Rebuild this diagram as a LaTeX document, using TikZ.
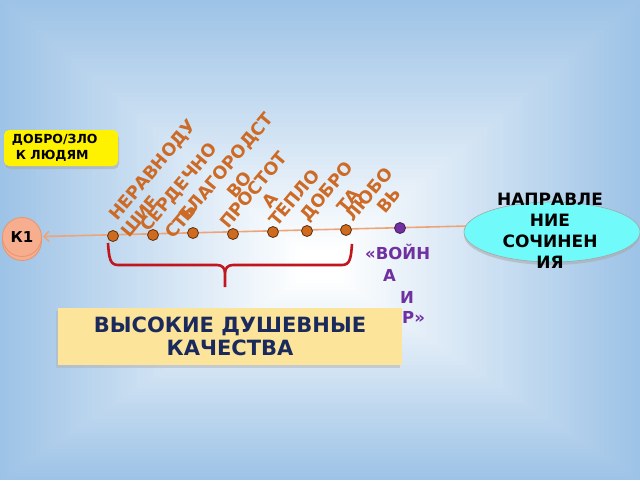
\documentclass[tikz,border=0pt]{standalone}
\usepackage{fontspec}
\setmainfont{DejaVu Sans}
\usetikzlibrary{shapes.geometric,shadows,arrows.meta}
\definecolor{bgblue}{HTML}{9DC3E6}
\definecolor{lorange}{HTML}{CC6A26}
\definecolor{dotor}{HTML}{D06A1E}
\definecolor{dotline}{HTML}{5A3010}
\definecolor{connc}{HTML}{EDA478}
\definecolor{kfill}{HTML}{F6AE8E}
\definecolor{kline}{HTML}{E8946E}
\definecolor{purp}{HTML}{7030A0}
\definecolor{navy}{HTML}{1B2A5C}
\definecolor{boxfill}{HTML}{FCE49A}
\definecolor{aqua}{HTML}{70FAFA}
\definecolor{bracec}{HTML}{C0161E}
\tikzset{
  lbl/.style={anchor=base west, rotate=50, inner sep=0pt, text=lorange,
    font=\bfseries\fontsize{17.5}{17.5}\selectfont},
  ptxt/.style={anchor=base west, inner sep=0pt, text=purp,
    font=\bfseries\fontsize{16.5}{16.5}\selectfont},
  dotn/.style={circle, fill=dotor, draw=dotline, line width=0.8pt, minimum size=11pt, inner sep=0pt},
  pdot/.style={circle, fill=purp, draw=purp!60!black, line width=0.8pt, minimum size=11pt, inner sep=0pt},
  conn/.style={draw=connc, line width=1.6pt},
  kcirc/.style={circle, fill=kfill, draw=kline, line width=0.8pt, minimum size=39pt, inner sep=0pt},
  ybox/.style={rectangle, rounded corners=5pt, fill=yellow, minimum width=114pt, minimum height=36pt,
    text width=98pt, inner xsep=8pt, align=left,
    drop shadow={shadow xshift=1pt, shadow yshift=-3pt, fill=gray!70},
    font=\bfseries\fontsize{12.5}{16}\selectfont},
  qbox/.style={rectangle, fill=boxfill, minimum width=344pt, minimum height=57pt, align=center,
    text=navy, drop shadow={shadow xshift=-2pt, shadow yshift=-3pt, fill=gray!60},
    font=\bfseries\fontsize{21}{23}\selectfont},
  ell/.style={ellipse, fill=aqua, draw=gray!70, line width=0.6pt, minimum width=176pt, minimum height=60pt,
    drop shadow={shadow xshift=0pt, shadow yshift=-3pt, fill=gray!70}},
  elltxt/.style={align=center, inner sep=0pt, font=\bfseries\fontsize{17}{21}\selectfont},
  bracel/.style={draw=bracec, line width=2.6pt, line join=round}
}
\begin{document}
\begin{tikzpicture}[x=1pt,y=-1pt]
\useasboundingbox (0,0) rectangle (640,480);
% background
\foreach \i in {0,...,59}{
  \pgfmathsetmacro\t{\i/59}
  \pgfmathtruncatemacro\p{round(100*\t)}
  \pgfmathsetmacro\xa{300*\t}
  \pgfmathsetmacro\ya{250*\t}
  \pgfmathsetmacro\xb{640-300*\t}
  \pgfmathsetmacro\yb{480-200*\t}
  \fill[white!\p!bgblue] (\xa,\ya) rectangle (\xb,\yb);
}
% K1
\node[kcirc] (K1s) at (22,241) {};
\node[kcirc, font=\bfseries\fontsize{15}{15}\selectfont] (K1) at (22,237) {К1};
% connector
\coordinate (lineR) at (468,226);
\draw[conn, -{Straight Barb[length=5pt,width=10pt]}, shorten >=1pt] (lineR) -- (K1);
% ellipse
\node[ell] (dir) at (552,232) {};
\node[elltxt] (dirt) at (550,231) {НАПРАВЛЕ\\НИЕ\\СОЧИНЕН\\ИЯ};
% dots
\node[dotn] (d1) at (113,236) {};
\node[dotn] (d2) at (153,235) {};
\node[dotn] (d3) at (193,233) {};
\node[dotn] (d4) at (233,234) {};
\node[dotn] (d5) at (273,232) {};
\node[dotn] (d6) at (307,231) {};
\node[dotn] (d7) at (346,230) {};
\node[pdot] (d8) at (400,228) {};
% rotated labels
\node[lbl] (l1) at (117,222) {НЕРАВНОДУ};
\node[lbl] (l1b) at (129,239) {ШИЕ};
\node[lbl] (l2) at (148,233) {СЕРДЕЧНО};
\node[lbl] (l2b) at (173,240) {СТЬ};
\node[lbl] (l3) at (187,223) {БЛАГОРОДСТ};
\node[lbl] (l3b) at (235,200) {ВО};
\node[lbl] (l4) at (228,230) {ПРОСТОТ};
\node[lbl] (l4b) at (270,210) {А};
\node[lbl] (l5) at (277,228) {ТЕПЛО};
\node[lbl] (l6) at (308,223) {ДОБРО};
\node[lbl] (l6b) at (345,215) {ТА};
\node[lbl] (l7) at (353,223) {ЛЮБО};
\node[lbl] (l7b) at (385,215) {ВЬ};
% brace
\draw[bracel] (108,243) .. controls (109,258) and (110,265) .. (118,265) -- (217,265)
  .. controls (222,265) and (225,268) .. (225,273) -- (225,287);
\draw[bracel] (225,273) .. controls (225,268) and (228,265) .. (233,265) -- (342,265)
  .. controls (350,265) and (351,258) .. (352,244);
% purple text
\node[ptxt] (w1) at (365,259) {«ВОЙН};
\node[ptxt] (w2) at (383,281) {А};
\node[ptxt] (w3) at (400,303) {И};
\node[ptxt] (w4) at (402,323) {Р»};
% boxes
\node[ybox] (dz) at (61,148) {ДОБРО/ЗЛО\\\hspace*{4pt}К ЛЮДЯМ};
\node[qbox] (q) at (230,336.5) {ВЫСОКИЕ ДУШЕВНЫЕ\\КАЧЕСТВА};
\end{tikzpicture}
\end{document}
